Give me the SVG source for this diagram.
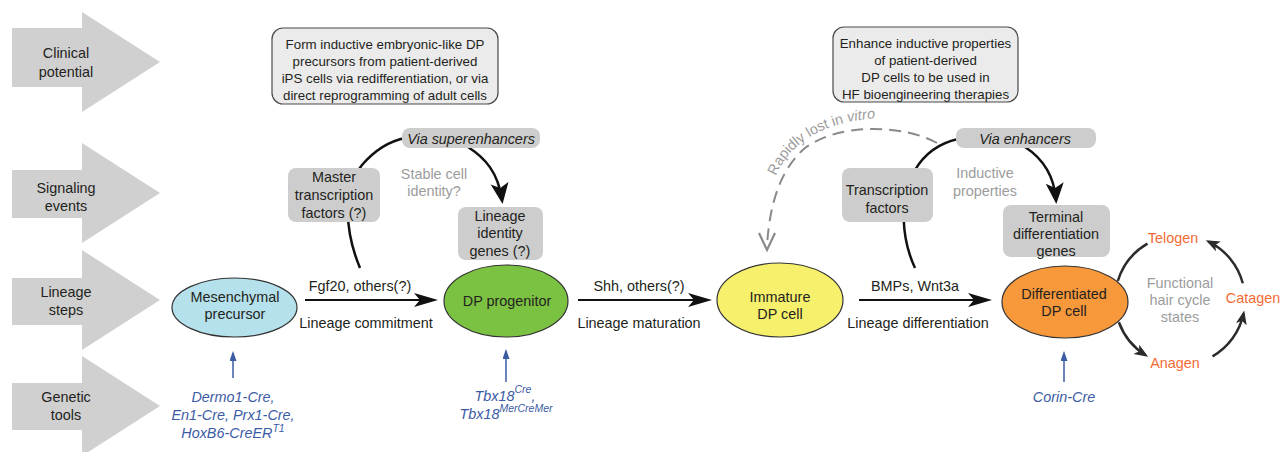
<svg xmlns="http://www.w3.org/2000/svg" width="1282" height="452" viewBox="0 0 1282 452">
<style>
text{font-family:"Liberation Sans",Arial,sans-serif;font-size:14.4px;fill:#231f20}
.c{text-anchor:middle}
.g{fill:#9c9c9c}
.b{fill:#3b5ba5;font-style:italic}
.o{fill:#f26b35}
.i{font-style:italic}
.cl{font-size:13.3px}
.row{fill:#d0d0d0}
.sig{fill:#cdcdcd}
.clin{fill:#ebebeb;stroke:#4a4a4a;stroke-width:1.2}
.ell{stroke:#333;stroke-width:1.2}
.ln{fill:none;stroke:#111;stroke-width:2}
.arc{fill:none;stroke:#111;stroke-width:2.5}
.hc{fill:none;stroke:#2b2b2b;stroke-width:2.5}
.bl{fill:none;stroke:#3b5ba5;stroke-width:1.5}
</style>
<defs>
<marker id="ah" markerUnits="userSpaceOnUse" markerWidth="26" markerHeight="14" refX="20" refY="7" orient="auto"><path d="M0,0 L24,7 L0,14 L6,7 z" fill="#111"/></marker>
<marker id="big" markerUnits="userSpaceOnUse" markerWidth="22" markerHeight="20" refX="17" refY="9" orient="auto"><path d="M0,0 L21,9 L0,18 L5,9 z" fill="#111"/></marker>
<marker id="sm" markerUnits="userSpaceOnUse" markerWidth="16" markerHeight="12" refX="11" refY="5.5" orient="auto"><path d="M0,0 L14,5.5 L0,11 L3.5,5.5 z" fill="#2b2b2b"/></marker>
<marker id="bh" markerUnits="userSpaceOnUse" markerWidth="11" markerHeight="8" refX="8" refY="3.5" orient="auto"><path d="M0,0 L10,3.5 L0,7 z" fill="#3b5ba5"/></marker>
</defs>

<g id="row-clinical">
<polygon class="row" points="12,28 82,28 82,12 160,62 82,112 82,87 12,87"/>
<text class="c" x="66" y="58">Clinical</text>
<text class="c" x="66" y="77">potential</text>
</g>
<g id="row-signaling">
<polygon class="row" points="12,170 82,170 82,143 160,193 82,243 82,218 12,218"/>
<text class="c" x="66" y="193">Signaling</text>
<text class="c" x="66" y="211">events</text>
</g>
<g id="row-lineage">
<polygon class="row" points="12,278 82,278 82,250 160,300 82,350 82,325 12,325"/>
<text class="c" x="66" y="297">Lineage</text>
<text class="c" x="66" y="315">steps</text>
</g>
<g id="row-genetic">
<polygon class="row" points="12,383 82,383 82,356 160,406 82,456 82,430 12,430"/>
<text class="c" x="66" y="402">Genetic</text>
<text class="c" x="66" y="420">tools</text>
</g>

<g id="connectors">
<line class="ln" x1="305" y1="300" x2="434" y2="300" marker-end="url(#ah)"/>
<line class="ln" x1="578" y1="300" x2="708" y2="300" marker-end="url(#ah)"/>
<line class="ln" x1="859" y1="300" x2="988" y2="300" marker-end="url(#ah)"/>
<path class="arc" d="M360,268 C345,232 342,190 362,165 C375,150 390,141 405,138"/>
<path class="arc" d="M468,147 C485,158 498,172 502,200" marker-end="url(#big)"/>
<path class="arc" d="M915,268 C902,240 898,200 915,170 C925,153 940,143 958,139"/>
<path class="arc" d="M1025,147 C1042,158 1054,174 1056,200" marker-end="url(#big)"/>
<path d="M937,143 C905,125 840,122 805,148 C785,165 770,195 767,246" fill="none" stroke="#8a8a8a" stroke-width="2" stroke-dasharray="12,7"/>
<path d="M759,233 L767,250 L775,233" fill="none" stroke="#8a8a8a" stroke-width="2.2"/>
<path class="hc" d="M1117.8,281 A65,65 0 0 1 1147.5,243.7"/>
<path class="hc" d="M1118.9,322.2 A65,65 0 0 0 1145.6,355.1" marker-end="url(#sm)"/>
<path class="hc" d="M1212.5,356.3 A65,65 0 0 0 1243.6,313.5" marker-end="url(#sm)"/>
<path class="hc" d="M1242.8,283.2 A65,65 0 0 0 1208.5,241.6" marker-end="url(#sm)"/>
<line class="bl" x1="233" y1="378" x2="233" y2="353" marker-end="url(#bh)"/>
<line class="bl" x1="506" y1="382" x2="506" y2="351" marker-end="url(#bh)"/>
<line class="bl" x1="1064" y1="382" x2="1064" y2="353" marker-end="url(#bh)"/>
<path id="tp" d="M776,176 C788,146 818,126 860,120 C875,118 888,117 900,117" fill="none"/>
<text class="g"><textPath href="#tp">Rapidly lost in <tspan class="i">vitro</tspan></textPath></text>
</g>

<g id="clinical-1">
<rect class="clin" x="272" y="28" width="226" height="76" rx="11"/>
<text class="c cl" x="385" y="49">Form inductive embryonic-like DP</text>
<text class="c cl" x="385" y="66">precursors from patient-derived</text>
<text class="c cl" x="385" y="83">iPS cells via redifferentiation, or via</text>
<text class="c cl" x="385" y="100">direct reprogramming of adult cells</text>
</g>
<g id="clinical-2">
<rect class="clin" x="833" y="27" width="185" height="75" rx="11"/>
<text class="c cl" x="925.5" y="48">Enhance inductive properties</text>
<text class="c cl" x="925.5" y="65">of patient-derived</text>
<text class="c cl" x="925.5" y="82">DP cells to be used in</text>
<text class="c cl" x="925.5" y="99">HF bioengineering therapies</text>
</g>

<g id="via-superenhancers">
<rect class="sig" x="402" y="128" width="138" height="20" rx="8"/>
<text class="c i" x="471" y="144">Via superenhancers</text>
</g>
<g id="master-tf">
<rect class="sig" x="288" y="168" width="92" height="54" rx="8"/>
<text class="c" x="334" y="182">Master</text>
<text class="c" x="334" y="200">transcription</text>
<text class="c" x="334" y="218">factors (?)</text>
</g>
<g id="stable-identity">
<text class="c g" x="434" y="179">Stable cell</text>
<text class="c g" x="434" y="196">identity?</text>
</g>
<g id="lineage-identity-genes">
<rect class="sig" x="458" y="207" width="85" height="53" rx="8"/>
<text class="c" x="500" y="221">Lineage</text>
<text class="c" x="500" y="238">identity</text>
<text class="c" x="500" y="256">genes (?)</text>
</g>

<g id="via-enhancers">
<rect class="sig" x="956" y="128" width="140" height="20" rx="8"/>
<text class="c i" x="1025" y="144">Via enhancers</text>
</g>
<g id="transcription-factors">
<rect class="sig" x="842" y="168" width="91" height="54" rx="8"/>
<text class="c" x="887" y="195">Transcription</text>
<text class="c" x="887" y="213">factors</text>
</g>
<g id="inductive-properties">
<text class="c g" x="985" y="178">Inductive</text>
<text class="c g" x="985" y="196">properties</text>
</g>
<g id="terminal-genes">
<rect class="sig" x="1003" y="205" width="107" height="52" rx="8"/>
<text class="c" x="1056" y="222">Terminal</text>
<text class="c" x="1056" y="239">differentiation</text>
<text class="c" x="1056" y="256">genes</text>
</g>

<g id="mesenchymal-precursor">
<ellipse class="ell" cx="234.5" cy="307.5" rx="62.5" ry="29.5" fill="#b5e1ec"/>
<text class="c" x="235" y="302">Mesenchymal</text>
<text class="c" x="235" y="319">precursor</text>
</g>
<g id="dp-progenitor">
<ellipse class="ell" cx="506" cy="301" rx="62" ry="36" fill="#7cc242"/>
<text class="c" x="507" y="306">DP progenitor</text>
</g>
<g id="immature-dp">
<ellipse class="ell" cx="780" cy="300" rx="63" ry="37" fill="#f7f06c"/>
<text class="c" x="780" y="302">Immature</text>
<text class="c" x="780" y="319">DP cell</text>
</g>
<g id="differentiated-dp">
<ellipse class="ell" cx="1065" cy="302" rx="63" ry="36" fill="#f7983a"/>
<text class="c" x="1064" y="299">Differentiated</text>
<text class="c" x="1064" y="316">DP cell</text>
</g>

<g id="step-labels">
<text class="c" x="360" y="291">Fgf20, others(?)</text>
<text class="c" x="366" y="328">Lineage commitment</text>
<text class="c" x="639" y="291">Shh, others(?)</text>
<text class="c" x="639" y="328">Lineage maturation</text>
<text class="c" x="915" y="291">BMPs, Wnt3a</text>
<text class="c" x="918" y="328">Lineage differentiation</text>
</g>

<g id="hair-cycle">
<text class="c o" x="1173" y="243">Telogen</text>
<text class="c o" x="1253" y="303">Catagen</text>
<text class="c o" x="1175" y="368">Anagen</text>
<text class="c g" x="1180" y="288">Functional</text>
<text class="c g" x="1180" y="305">hair cycle</text>
<text class="c g" x="1180" y="322">states</text>
</g>

<g id="genetic-tools">
<text class="c b" x="233" y="402">Dermo1-Cre,</text>
<text class="c b" x="233" y="420">En1-Cre, Prx1-Cre,</text>
<text class="c b" x="233" y="438">HoxB6-CreER<tspan dy="-6" font-size="10.5">T1</tspan></text>
<text class="c b" x="505" y="401">Tbx18<tspan dy="-8" font-size="10.5">Cre</tspan><tspan dy="8">,</tspan></text>
<text class="c b" x="506" y="419">Tbx18<tspan dy="-7" font-size="10.5">MerCreMer</tspan></text>
<text class="c b" x="1064" y="402">Corin-Cre</text>
</g>
</svg>
